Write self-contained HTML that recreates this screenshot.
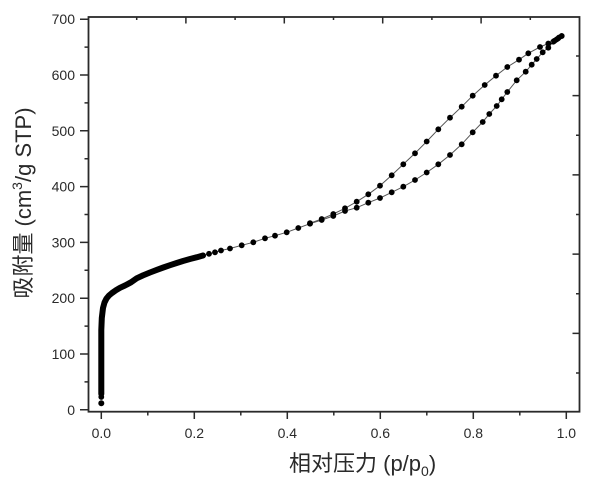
<!DOCTYPE html>
<html>
<head>
<meta charset="utf-8">
<style>
html,body{margin:0;padding:0;background:#fff;}
svg{display:block;}
text{font-family:"Liberation Sans","Noto Sans CJK SC",sans-serif;fill:#2a2a2a;}
</style>
</head>
<body>
<svg width="600" height="484" viewBox="0 0 600 484" xmlns="http://www.w3.org/2000/svg">
<defs>
<marker id="dot" markerUnits="userSpaceOnUse" markerWidth="8" markerHeight="8" refX="4" refY="4">
<circle cx="4" cy="4" r="2.9" fill="#000"/>
</marker>
</defs>
<rect x="0" y="0" width="600" height="484" fill="#fff"/>

<polyline fill="none" stroke="#000" stroke-width="6" stroke-linecap="round" stroke-linejoin="round" points="101.3,394 101.3,330 101.8,318 103,308 104.5,302.5 106.5,298.5 109,295.5 112,293 116,290.2 120,287.8 125,285.5 131,282.3 136.7,278.3 143,275.4 150,272.5 157,269.8 163.3,267.5 170,265.2 176.7,263 183,261 190,259 197,257.2 203,255.5"/>
<circle cx="101.3" cy="403.3" r="3" fill="#000"/>
<circle cx="101.3" cy="397" r="2.9" fill="#000"/>

<polyline fill="none" stroke="#555" stroke-width="1" marker-start="url(#dot)" marker-mid="url(#dot)" marker-end="url(#dot)" points="203,255.5 209,253.8 215,252.3 221,250.5 230,248.5 241.7,245.3 253.3,242.3 265,238.3 275,235.7 286.7,232.3 298.3,228 310,223.7 321.7,220 333.3,216 345,211 356.7,207.7 368.3,202.7 380,198 391.7,192.3 403.3,186.7 415,180 426.7,172.5 438.3,164.3 450,155 461.7,144.3 472.7,132.3 482.7,122 489.3,114 496.7,106 501.7,99.3 507.3,92 516.7,80.3 525.7,71.7 531.7,64.7 536.7,59 542.7,52.3 548.3,47.7 553.3,41.7 556.5,39.5 559,37.5 561.7,36"/>

<polyline fill="none" stroke="#555" stroke-width="1" marker-start="url(#dot)" marker-mid="url(#dot)" marker-end="url(#dot)" points="561.7,36 558,38.5 554.5,40.8 548.3,43.5 540,47 528.3,53.3 519,59.7 507.3,67 496,75.7 484.7,85 472.7,95.7 461.7,106.7 450,117.7 438.3,129.3 426.7,141.5 415,153.3 403.3,164.3 391.7,175.3 380,185.7 368.3,194.3 356.7,201.7 345,208.3 333.3,214 321.7,219 310,223.2"/>

<rect x="88.5" y="17" width="491" height="394.7" fill="none" stroke="#2a2a2a" stroke-width="1.8"/>

<path fill="none" stroke="#2a2a2a" stroke-width="1.5" d="M80 409.8H88.5M80 354H88.5M80 298.2H88.5M80 242.4H88.5M80 186.6H88.5M80 130.8H88.5M80 75H88.5M80 19.2H88.5M84.5 381.9H88.5M84.5 326.1H88.5M84.5 270.3H88.5M84.5 214.5H88.5M84.5 158.7H88.5M84.5 102.9H88.5M84.5 47.1H88.5"/>
<path fill="none" stroke="#2a2a2a" stroke-width="1.5" d="M101.3 411.7V419M147.8 411.7V415.5M194.3 411.7V419M240.8 411.7V415.5M287.3 411.7V419M333.8 411.7V415.5M380.3 411.7V419M426.8 411.7V415.5M473.3 411.7V419M519.8 411.7V415.5M566.3 411.7V419"/>
<path fill="none" stroke="#2a2a2a" stroke-width="1.5" d="M136.7 17V20M185.9 17V23.5M235.1 17V20M284.3 17V23.5M333.5 17V20M382.7 17V23.5M431.9 17V20M481.1 17V23.5M530.3 17V20"/>
<path fill="none" stroke="#2a2a2a" stroke-width="1.5" d="M579.5 56H576M579.5 95.6H572.5M579.5 135.3H576M579.5 174.9H572.5M579.5 214.5H576M579.5 254.1H572.5M579.5 293.8H576M579.5 333.4H572.5M579.5 373H576"/>

<g font-size="14" text-anchor="end">
<text x="75" y="414.8">0</text>
<text x="75" y="359">100</text>
<text x="75" y="303.2">200</text>
<text x="75" y="247.4">300</text>
<text x="75" y="191.6">400</text>
<text x="75" y="135.8">500</text>
<text x="75" y="80">600</text>
<text x="75" y="24.2">700</text>
</g>
<g font-size="14" text-anchor="middle">
<text x="101.3" y="438">0.0</text>
<text x="194.3" y="438">0.2</text>
<text x="287.3" y="438">0.4</text>
<text x="380.3" y="438">0.6</text>
<text x="473.3" y="438">0.8</text>
<text x="566.3" y="438">1.0</text>
</g>
<text x="289" y="471" font-size="22">相对压力 (p/p<tspan font-size="14" dy="5">0</tspan><tspan dy="-5">)</tspan></text>
<text transform="translate(31,203) rotate(-90)" text-anchor="middle" font-size="22">吸附量 (cm<tspan font-size="14" dy="-9">3</tspan><tspan dy="9">/g STP)</tspan></text>
</svg>
</body>
</html>
